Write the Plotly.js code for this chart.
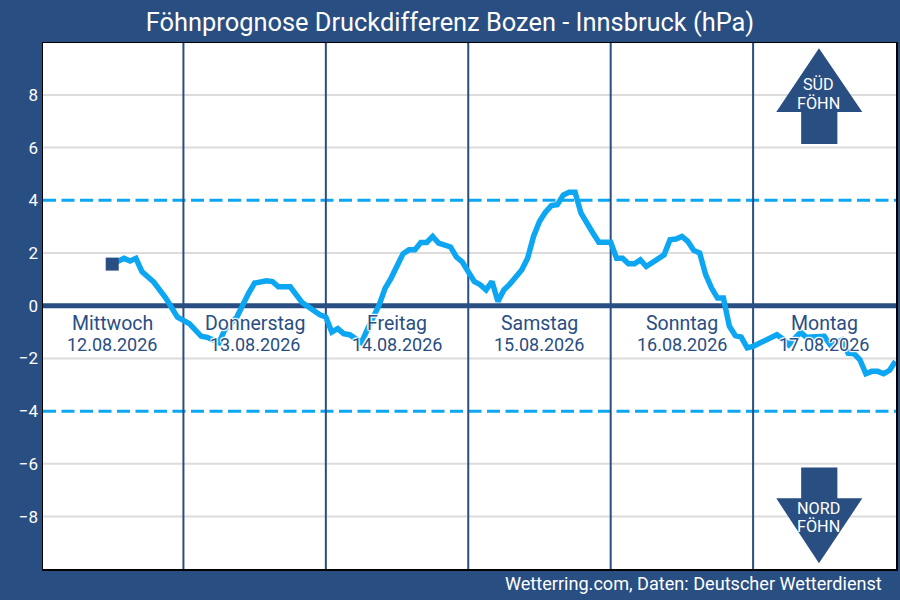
<!DOCTYPE html>
<html>
<head>
<meta charset="utf-8">
<script src="https://cdn.plot.ly/plotly-3.0.1.min.js"></script>
<style>html,body{margin:0;padding:0;background:#294e82}</style>
</head>
<body>
<div id="chart" style="width:900px;height:600px"></div>
<script>
const hours = [12,14,15,16,17,19,21,23,25,27,28,30,31,33,35,36,38,39,40,42,44,47,48,49,50,51,52,54,55,57,58,59,61,62,63,64,65,66,67,69,70,71,73,74,75,76,77,78,79,80,81,82,83,84,85,86,87,88,89,90,91,93,94,96,97,98,99,100,101,102,103,104,105,106,107,108,109,110,111,112,113,114,115,116,117,118,119,120,124,125,126,128,129,132,133,135,136,137,138,139,140,141,142,143,144];
const pressureDiff = [1.58,1.8,1.7,1.8,1.3,0.9,0.3,-0.43,-0.68,-1.16,-1.2,-1.4,-0.9,-0.43,0.48,0.86,0.95,0.92,0.72,0.72,0.12,-0.34,-0.43,-1.0,-0.87,-1.06,-1.1,-1.4,-0.9,0.04,0.67,1.05,1.97,2.12,2.12,2.4,2.4,2.63,2.38,2.23,1.85,1.66,0.92,0.8,0.6,0.92,0.16,0.6,0.82,1.11,1.36,1.8,2.63,3.2,3.55,3.8,3.83,4.2,4.31,4.31,3.51,2.76,2.41,2.41,1.8,1.8,1.59,1.59,1.74,1.49,1.62,1.8,1.93,2.5,2.53,2.63,2.44,2.1,2.0,1.18,0.67,0.29,0.29,-0.78,-1.13,-1.19,-1.6,-1.54,-1.1,-1.26,-1.48,-1.01,-1.2,-1.16,-1.48,-1.29,-1.8,-1.82,-2.05,-2.58,-2.49,-2.49,-2.58,-2.45,-2.11];
const dayNames = ["Mittwoch","Donnerstag","Freitag","Samstag","Sonntag","Montag"];
const dayDates = ["12.08.2026","13.08.2026","14.08.2026","15.08.2026","16.08.2026","17.08.2026"];
const dayCenters = [12,36,60,84,108,132];
const dayBoundaries = [24,48,72,96,120];
const yTicks = [-8,-6,-4,-2,0,2,4,6,8];
const gridValues = [-8,-6,-2,2,6,8];
const thresholds = [-4,4];

const DARK = "#294e82", CYAN = "#0ca6f2", FONT = "Roboto, sans-serif";
const XMIN = 0.337, XMAX = 144.08, YMIN = -9.99, YMAX = 9.97;
const halo = "1px 1px 1px #fff, -1px -1px 1px #fff, 1px -1px 1px #fff, -1px 1px 1px #fff, 0 0 2px #fff";

const hLine = (y, color, width, dash) => ({type:"line", layer:"below", xref:"x", yref:"y", x0:XMIN, x1:XMAX, y0:y, y1:y, line:{color, width, dash:dash||"solid"}});
const vLine = x => ({type:"line", layer:"below", xref:"x", yref:"y", x0:x, x1:x, y0:YMIN, y1:YMAX, line:{color:DARK, width:2}});
const arrowShape = path => ({type:"path", layer:"above", xref:"x", yref:"y", path, fillcolor:DARK, line:{width:0}});

const shapes = [
  ...gridValues.map(v => hLine(v, "#dcdcdc", 2)),
  ...thresholds.map(v => hLine(v, CYAN, 3, "13px,5.5px")),
  ...dayBoundaries.map(vLine),
  hLine(0, DARK, 5),
  arrowShape("M131.1,9.77 L138.4,7.35 L134.2,7.35 L134.2,6.14 L128.1,6.14 L128.1,7.35 L123.9,7.35 Z"),
  arrowShape("M131.1,-9.77 L138.4,-7.31 L134.2,-7.31 L134.2,-6.14 L128.1,-6.14 L128.1,-7.31 L123.9,-7.31 Z")
];

const dayNote = (text, x, y, size) => ({text, x, y, xref:"x", yref:"y", showarrow:false, xanchor:"center", yanchor:"middle",
  font:{family:FONT, size, color:DARK, shadow:halo}});
const arrowNote = (text, y) => ({text, x:131.1, y, xref:"x", yref:"y", showarrow:false, xanchor:"center", yanchor:"middle",
  font:{family:FONT, size:16.2, color:"#ffffff"}});

const annotations = [
  ...dayNames.map((t,i) => dayNote(t, dayCenters[i], -0.66, 19.5)),
  ...dayDates.map((t,i) => dayNote(t, dayCenters[i], -1.46, 18)),
  arrowNote("SÜD", 8.38), arrowNote("FÖHN", 7.68),
  arrowNote("NORD", -7.68), arrowNote("FÖHN", -8.38),
  {text:"Wetterring.com, Daten: Deutscher Wetterdienst", xref:"paper", yref:"paper", x:0.986, y:-0.0285, xanchor:"right", yanchor:"middle", showarrow:false,
   font:{family:FONT, size:18.1, color:"#ffffff"}}
];

const traces = [
  {x:hours, y:pressureDiff, type:"scatter", mode:"lines", line:{color:CYAN, width:5.5, shape:"linear"}, hoverinfo:"skip"},
  {x:hours.slice(0,1), y:pressureDiff.slice(0,1), type:"scatter", mode:"markers", marker:{symbol:"square", size:13, color:DARK}, hoverinfo:"skip"}
];

const layout = {
  width:900, height:600,
  paper_bgcolor:DARK, plot_bgcolor:"#ffffff",
  margin:{l:42.5, r:4, t:43, b:30.5, pad:0},
  showlegend:false,
  title:{text:"Föhnprognose Druckdifferenz Bozen - Innsbruck (hPa)", font:{family:FONT, size:25.4, color:"#ffffff"}, x:0.5, xref:"container", xanchor:"center", y:0.9635, yanchor:"middle"},
  xaxis:{range:[XMIN,XMAX], showgrid:false, zeroline:false, showticklabels:false, ticks:"", showline:true, mirror:true, linecolor:"#000000", linewidth:1.5},
  yaxis:{range:[YMIN,YMAX], tickmode:"array", tickvals:yTicks, showgrid:false, zeroline:false, ticks:"", showline:true, mirror:true, linecolor:"#000000", linewidth:1.5,
    tickfont:{family:FONT, size:17, color:"#ffffff"}},
  shapes, annotations
};
Plotly.newPlot("chart", traces, layout, {displayModeBar:false, staticPlot:true});
</script>
</body>
</html>
